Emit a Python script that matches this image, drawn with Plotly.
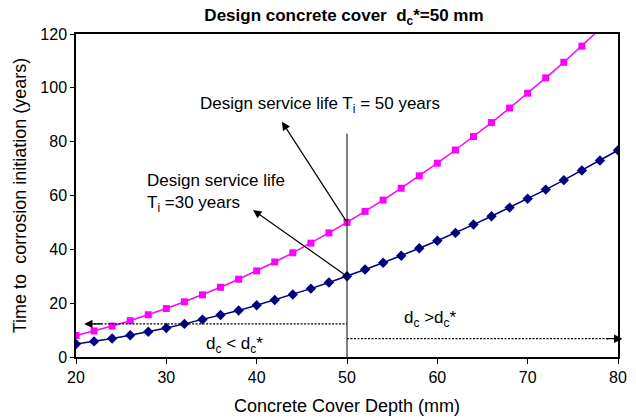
import plotly.graph_objects as go

# cover depth (mm), read every 2 mm from the picture
depth = [20, 22, 24, 26, 28, 30, 32, 34, 36, 38, 40, 42, 44, 46, 48, 50,
         52, 54, 56, 58, 60, 62, 64, 66, 68, 70, 72, 74, 76, 78, 80]

# time to corrosion initiation (years)
t_50 = [8.0, 9.7, 11.5, 13.5, 15.7, 18.0, 20.5, 23.1, 25.9, 28.9, 32.0, 35.3, 38.7, 42.3, 46.1, 50.0,
        54.1, 58.3, 62.7, 67.3, 72.0, 76.9, 81.9, 87.1, 92.5, 98.0, 103.7, 109.5, 115.5, 121.7, 128.0]
t_30 = [4.8, 5.8, 6.9, 8.1, 9.4, 10.8, 12.3, 13.9, 15.6, 17.3, 19.2, 21.2, 23.2, 25.4, 27.7, 30.0,
        32.5, 35.0, 37.6, 40.4, 43.2, 46.1, 49.2, 52.3, 55.5, 58.8, 62.2, 65.7, 69.3, 73.0, 76.8]

x_ticks = [20, 30, 40, 50, 60, 70, 80]
y_ticks = [0, 20, 40, 60, 80, 100, 120]

font = "Liberation Sans, Arial, sans-serif"

fig = go.Figure()
fig.add_trace(go.Scatter(
    x=depth, y=t_50, mode="lines+markers", name="Ti=50",
    line=dict(color="#FF00FF", width=1.5),
    marker=dict(symbol="square", size=7, color="#FF00FF")
))
fig.add_trace(go.Scatter(
    x=depth, y=t_30, mode="lines+markers", name="Ti=30",
    line=dict(color="#000080", width=1.5),
    marker=dict(symbol="diamond", size=8, color="#000080")
))

# vertical design line and dotted ranges
dotted = dict(color="black", width=1.3, dash="2px,1.5px")
fig.add_shape(type="line", x0=50, x1=50, y0=0, y1=83, line=dict(color="black", width=1))
fig.add_shape(type="line", x0=22, x1=50, y0=12.3, y1=12.3, line=dotted)
fig.add_shape(type="line", x0=50, x1=79, y0=6.8, y1=6.8, line=dotted)

arrows = [
    # (head x, head y, tail x, tail y)
    (42.8, 87.4, 50, 50),
    (39.6, 54.6, 50, 30),
    (20.9, 12.3, 23, 12.3),
    (80.5, 6.8, 78.5, 6.8),
]
for hx, hy, tx, ty in arrows:
    fig.add_annotation(x=hx, y=hy, ax=tx, ay=ty, xref="x", yref="y", axref="x", ayref="y",
                       text="", showarrow=True, arrowhead=2, arrowsize=1.4, arrowwidth=1.2,
                       arrowcolor="black")

txt = dict(family=font, size=17, color="black")
fig.add_annotation(x=47.0, y=93.5, xref="x", yref="y", showarrow=False, font=txt,
                   text="Design service life T<sub>i</sub> = 50 years")
fig.add_annotation(x=27.6, y=61, xref="x", yref="y", showarrow=False, font=txt, align="left",
                   xanchor="left", text="Design service life<br>T<sub>i</sub> =30 years")
fig.add_annotation(x=37.6, y=4.5, xref="x", yref="y", showarrow=False, font=txt,
                   text="d<sub>c</sub> &lt; d<sub>c</sub>*")
fig.add_annotation(x=59.2, y=14, xref="x", yref="y", showarrow=False, font=txt,
                   text="d<sub>c</sub> &gt;d<sub>c</sub>*")

# the page body adds 8 px on the left and top, so the figure is 8 px smaller
fig.update_layout(
    title=dict(text="<b>Design concrete cover  d<sub>c</sub>*=50 mm</b>", x=0.535, y=0.983,
               xanchor="center", yanchor="middle", font=dict(family=font, size=17, color="black")),
    width=628, height=411,
    margin=dict(l=68, r=18, t=26, b=62),
    paper_bgcolor="white", plot_bgcolor="white",
    showlegend=False,
    font=dict(family=font, size=16, color="black")
)
fig.update_xaxes(range=[20, 80], tickvals=x_ticks, showgrid=False, zeroline=False,
                 showline=True, linecolor="black", linewidth=1.5, mirror=True,
                 ticks="outside", ticklen=5, tickcolor="black", tickfont=dict(size=16),
                 automargin=False,
                 title=dict(text="Concrete Cover Depth (mm)", font=dict(family=font, size=18),
                            standoff=14))
fig.update_yaxes(range=[0, 120], tickvals=y_ticks, showgrid=False, zeroline=False,
                 showline=True, linecolor="black", linewidth=1.5, mirror=True,
                 ticks="outside", ticklen=4, tickcolor="black", tickfont=dict(size=16),
                 automargin=False,
                 title=dict(text="Time to  corrosion initiation (years)", font=dict(family=font, size=18),
                            standoff=9))

fig.write_html("out.html")
